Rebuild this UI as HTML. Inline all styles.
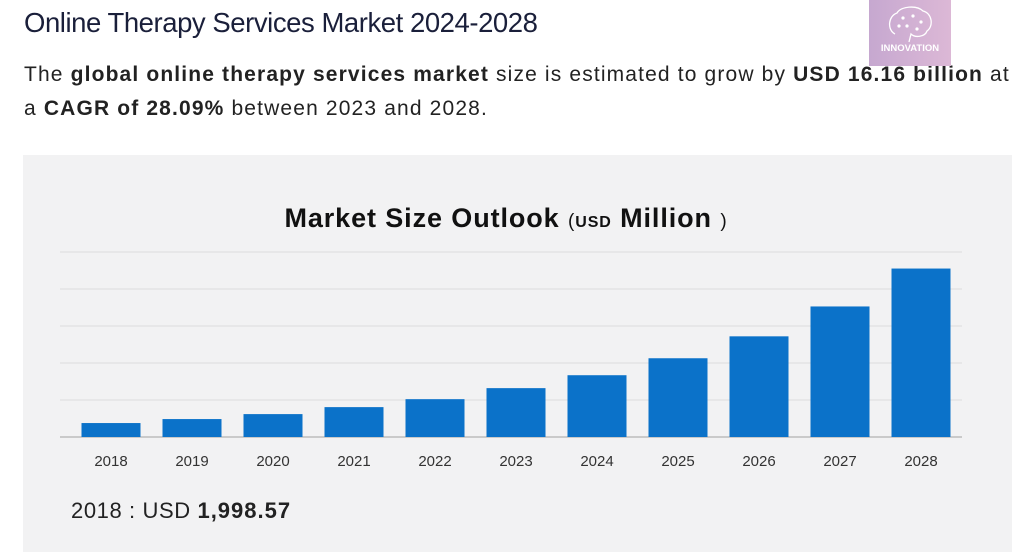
<!DOCTYPE html>
<html><head><meta charset="utf-8"><style>
body{margin:0;width:1024px;height:552px;background:#fff;font-family:"Liberation Sans",sans-serif;overflow:hidden;position:relative}
.t{position:absolute;left:24px;top:7px;font-size:27.5px;color:#1a1f3a;letter-spacing:-0.45px}
.s{position:absolute;left:24px;top:58px;font-size:21px;color:#222;line-height:34px;width:1010px;letter-spacing:1.15px;white-space:nowrap}
.logo{position:absolute;left:869px;top:0;width:82px;height:66px;background:linear-gradient(90deg,#c6a8d0,#dcb8d6);color:#fff;font-size:9.5px;font-weight:bold;text-align:center}
.panel{position:absolute;left:23px;top:155px;width:989px;height:397px;background:#f2f2f3}
</style></head><body>
<div class="t">Online Therapy Services Market 2024-2028</div>
<div class="s">The <b>global online therapy services market</b> size is estimated to grow by <b>USD 16.16 billion</b> at<br>a <b>CAGR of 28.09%</b> between 2023 and 2028.</div>
<div class="logo"><svg width="50" height="40" viewBox="0 0 50 40" style="margin-top:4px"><path d="M10 30 C2 26 3 12 12 9 C16 2 32 1 38 7 C47 9 49 22 42 27 C40 33 30 34 26 30 L24 38" fill="none" stroke="#fff" stroke-width="1.3"/><g fill="#fff"><circle cx="18" cy="14" r="1.6"/><circle cx="28" cy="12" r="1.6"/><circle cx="36" cy="18" r="1.6"/><circle cx="22" cy="22" r="1.6"/><circle cx="14" cy="22" r="1.6"/><circle cx="32" cy="25" r="1.6"/></g></svg><div style="margin-top:-4px">INNOVATION</div></div>
<div class="panel"></div>
<svg id="c" width="1024" height="552" style="position:absolute;left:0;top:0">
<text x="506" y="227" text-anchor="middle" font-size="27" font-weight="bold" fill="#111" letter-spacing="0.9">Market Size Outlook <tspan font-size="19" font-weight="normal">(</tspan><tspan font-size="16">USD</tspan> Million <tspan font-size="19" font-weight="normal">)</tspan></text>
<text x="71" y="518" font-size="22" fill="#222" letter-spacing="0.6">2018 : USD <tspan font-weight="bold" letter-spacing="1">1,998.57</tspan></text>
</svg>
<script>
const years=["2018","2019","2020","2021","2022","2023","2024","2025","2026","2027","2028"];
const values=[1998.57,2570,3280,4280,5420,7000,8850,11280,14420,18700,24130];
const gridTicks=[0,5300,10600,15900,21200,26500];
const svg=document.getElementById('c');const NS="http://www.w3.org/2000/svg";
const x0=70.5,band=81,base=437,yMax=26500,ph=185;
const y=v=>base-v/yMax*ph;
gridTicks.forEach((t,i)=>{const l=document.createElementNS(NS,'line');
l.setAttribute('x1',60);l.setAttribute('x2',962);l.setAttribute('y1',y(t));l.setAttribute('y2',y(t));
l.setAttribute('stroke',i==0?'#bdbdbd':'#dcdcdc');l.setAttribute('stroke-width',i==0?1.5:1);


svg.appendChild(l);});
years.forEach((yr,i)=>{const cx=x0+band*i+band/2;
const r=document.createElementNS(NS,'rect');
r.setAttribute('x',cx-29.5);r.setAttribute('width',59);r.setAttribute('y',y(values[i]));r.setAttribute('height',base-y(values[i]));r.setAttribute('fill','#0b72c9');


svg.appendChild(r);
const t=document.createElementNS(NS,'text');t.setAttribute('x',cx);t.setAttribute('y',466);t.setAttribute('text-anchor','middle');t.setAttribute('font-size','15');t.setAttribute('fill','#333');t.textContent=yr;


svg.appendChild(t);});
</script>
</body></html>
